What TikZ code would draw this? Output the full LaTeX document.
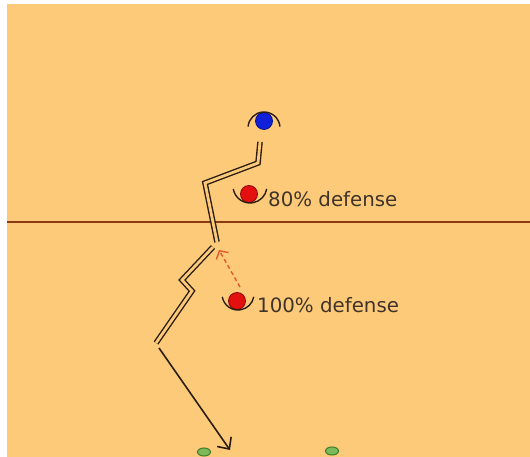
\documentclass[tikz,border=0pt]{standalone}
\usepackage{fontspec}
\setmainfont{DejaVu Sans}
\usetikzlibrary{arrows.meta,shapes.geometric}
\definecolor{field}{HTML}{FDCA79}
\definecolor{ink}{HTML}{2B1D12}
\definecolor{midline}{HTML}{8B3A12}
\definecolor{reddot}{HTML}{E41010}
\definecolor{bluedot}{HTML}{1020D8}
\definecolor{dashred}{HTML}{E4572E}
\definecolor{cone}{HTML}{7DBA5A}
\definecolor{conedark}{HTML}{3D7A2A}
\tikzset{
  player/.style={circle, inner sep=0pt, minimum size=17pt, line width=0.8pt},
  routeline/.style={draw=ink, line width=1.4pt, double=field, double distance=2.8pt, line join=miter},
  cupline/.style={draw=ink, line width=1.4pt},
  lbl/.style={anchor=base west, inner sep=0pt, text=ink!90, font=\fontsize{19.8}{22}\selectfont},
  conemark/.style={ellipse, draw=conedark, fill=cone, line width=1pt, minimum width=13pt, minimum height=8pt, inner sep=0pt}
}
\begin{document}
\begin{tikzpicture}[x=1pt,y=1pt]
\useasboundingbox (0,0) rectangle (530,457);
\fill[white] (0,0) rectangle (530,457);
\fill[field] (7,0) rectangle (530,453);
% midline
\draw[midline, line width=1.8pt] (7,235) -- (530,235);
% players
\node[player, fill=bluedot, draw=bluedot!60!black] (o) at (264,336) {};
\node[player, fill=reddot, draw=reddot!60!black] (d1) at (249,263) {};
\node[player, fill=reddot, draw=reddot!60!black] (d2) at (237,156) {};
% arcs
\draw[cupline] ([shift={(5:16)}]264,329) arc[start angle=5, end angle=175, radius=16];
\draw[cupline] ([shift={(190:17)}]250,271) arc[start angle=190, end angle=350, radius=17];
\draw[cupline] ([shift={(190:16)}]238,163) arc[start angle=190, end angle=350, radius=16];
% labels
\node[lbl] (t1) at (268,250) {80\% defense};
\node[lbl] (t2) at (257,144) {100\% defense};
% route
\coordinate (r0) at (260,315);
\coordinate (r1) at (258,294);
\coordinate (r2) at (205,274);
\coordinate (r3) at (217,215);
\coordinate (r4) at (213,210);
\coordinate (r5) at (182,177);
\coordinate (r6) at (192,166);
\coordinate (r7) at (156,114);
\coordinate (a0) at (159,109);
\coordinate (a1) at (230,7);
\draw[routeline] (r0) -- (r1) -- (r2) -- (r3);
\draw[routeline] (r4) -- (r5) -- (r6) -- (r7);
\draw[ink, line width=1.6pt, -{Straight Barb[length=9pt,width=17pt,line width=1.6pt]}] (a0) -- (a1);
% dashed red arrow
\coordinate (dtip) at (219,207);
\coordinate (dstart) at (240,170);
\draw[dashred, line width=1.4pt, dash pattern=on 4pt off 3pt, -{Straight Barb[length=6pt,width=14pt,line width=1.4pt]}] (dstart) -- (dtip);
% cones
\node[conemark] (c1) at (204,5) {};
\node[conemark] (c2) at (332,6) {};
\end{tikzpicture}
\end{document}
